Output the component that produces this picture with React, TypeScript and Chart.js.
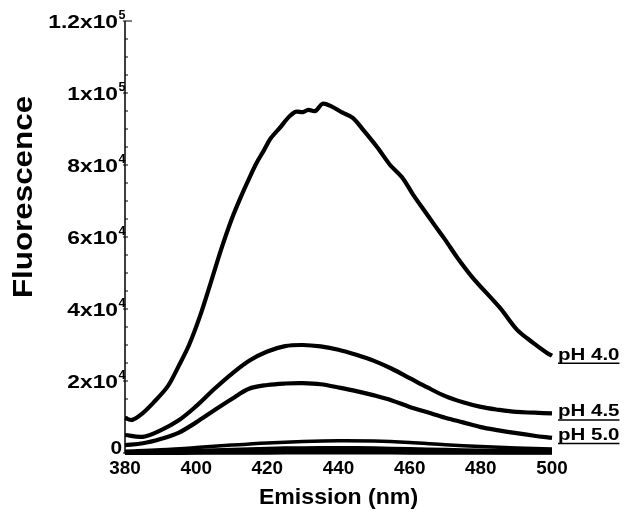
import { useEffect, useRef } from "react";
import { Chart, registerables } from "chart.js";

Chart.register(...registerables);

// ---- data ----
const ph40Wavelengths = [380, 382, 385, 388, 392, 395, 398, 401, 404, 407, 410, 412.5, 415, 417, 419, 421, 423.5, 426, 428, 430, 431.5, 433.5, 435.5, 438, 441, 444, 447, 451, 454.5, 458, 461, 464, 467, 470, 473.3, 477.8, 485.4, 490.2, 494.7, 498.6, 500];
const ph40Values = [9700, 9200, 11100, 14000, 18500, 24000, 30000, 37800, 47000, 56500, 65000, 71000, 76500, 80600, 84000, 87500, 90300, 93300, 94800, 94700, 95300, 95000, 97000, 96300, 94600, 93100, 89700, 84800, 80000, 76400, 71700, 67500, 63300, 59200, 54400, 48600, 40300, 34200, 30600, 27800, 27000];

const gridWavelengths = [380, 385, 390, 395, 400, 405, 410, 415, 420, 425, 430, 435, 440, 445, 450, 455, 460, 465, 470, 475, 480, 485, 490, 495, 500];
const ph45Values = [5000, 4500, 6300, 9000, 13000, 17700, 22000, 25700, 28200, 29700, 30000, 29600, 28700, 27300, 25600, 23400, 20800, 18200, 15800, 14100, 12800, 12000, 11400, 11200, 11000];
const ph50Values = [2200, 2700, 3900, 5600, 8500, 11800, 15000, 17900, 18900, 19300, 19400, 19100, 18200, 17200, 16000, 14600, 12800, 11300, 9800, 8500, 7200, 6300, 5500, 4800, 4200];

const lowWavelengths = [380, 390, 400, 410, 420, 430, 440, 450, 460, 470, 480, 490, 500];
const ph55Values = [500, 900, 1500, 2200, 2800, 3200, 3400, 3300, 2900, 2300, 1800, 1400, 1100];
const ph60Values = [100, 300, 600, 900, 1200, 1350, 1400, 1300, 1100, 900, 700, 550, 500];
const ph65Values = [0, 100, 200, 300, 400, 450, 500, 480, 400, 330, 270, 220, 200];
const ph70Values = [0, 0, 50, 80, 100, 120, 130, 120, 100, 80, 60, 50, 40];

const xTickValues = [380, 400, 420, 440, 460, 480, 500];
const yTickValues = [0, 20000, 40000, 60000, 80000, 100000, 120000];
const yTickBases = ["0", "2x10", "4x10", "6x10", "8x10", "1x10", "1.2x10"];
const yTickExponents = ["", "4", "4", "4", "4", "5", "5"];
const yMinorStep = 5000;
const seriesLabels = ["pH 4.0", "pH 4.5", "pH 5.0"];
const xTitle = "Emission (nm)";
const yTitle = "Fluorescence";

const FONT = "'Liberation Sans', Arial, Helvetica, sans-serif";

function pts(xs: number[], ys: number[]) {
  return xs.map((x, i) => ({ x, y: ys[i] }));
}

function drawText(
  ctx: CanvasRenderingContext2D,
  text: string,
  x: number,
  y: number,
  size: number,
  sx: number,
  align: "left" | "right" | "center",
  baseline: CanvasTextBaseline
) {
  ctx.save();
  ctx.font = `bold ${size}px ${FONT}`;
  ctx.textBaseline = baseline;
  ctx.textAlign = "left";
  const w = ctx.measureText(text).width * sx;
  let left = x;
  if (align === "right") left = x - w;
  if (align === "center") left = x - w / 2;
  ctx.translate(left, y);
  ctx.scale(sx, 1);
  ctx.fillText(text, 0, 0);
  ctx.restore();
  return { left, width: w };
}

const decorPlugin = {
  id: "decor",
  afterDraw(chart: any) {
    const ctx: CanvasRenderingContext2D = chart.ctx;
    const xs = chart.scales.x;
    const ys = chart.scales.y;
    const x0 = xs.getPixelForValue(380);
    const x1 = xs.getPixelForValue(500);
    const y0 = ys.getPixelForValue(0);
    const yTop = ys.getPixelForValue(120000);
    ctx.save();
    ctx.fillStyle = "#000";
    ctx.strokeStyle = "#000";
    ctx.lineWidth = 1.5;
    // axes
    ctx.beginPath();
    ctx.moveTo(x0, yTop);
    ctx.lineTo(x0, y0);
    ctx.lineTo(x1, y0);
    ctx.stroke();
    // y ticks
    ctx.lineWidth = 1;
    for (let v = 0; v <= 120000; v += yMinorStep) {
      const py = ys.getPixelForValue(v);
      ctx.beginPath();
      const isTop = v === 120000;
      ctx.moveTo(x0 - (v % 20000 === 0 ? 2 : 0), py);
      ctx.lineTo(x0 + (isTop ? 7 : 3), py);
      ctx.stroke();
    }
    // y tick labels
    yTickValues.forEach((v, i) => {
      const py = ys.getPixelForValue(v);
      const exp = yTickExponents[i];
      if (!exp) {
        drawText(ctx, yTickBases[i], x0 - 3, py - 4, 19, 1.1, "right", "middle");
      } else {
        const baseEnd = x0 - 7;
        drawText(ctx, yTickBases[i], baseEnd, py + 2, 19, 1.2, "right", "middle");
        drawText(ctx, exp, baseEnd + 0.5, py - 5, 12, 1.05, "left", "middle");
      }
    });
    // x tick labels
    xTickValues.forEach((v) => {
      const px = xs.getPixelForValue(v);
      drawText(ctx, String(v), px, y0 + 16, 18, 1.05, "center", "middle");
    });
    // axis titles
    drawText(ctx, xTitle, (x0 + x1) / 2, y0 + 45, 22, 1.05, "center", "middle");
    ctx.save();
    ctx.translate(24, 197);
    ctx.rotate(-Math.PI / 2);
    drawText(ctx, yTitle, 0, 0, 28, 1.12, "center", "middle");
    ctx.restore();
    // series labels
    const ends = [ph40Values[ph40Values.length - 1], ph45Values[ph45Values.length - 1], ph50Values[ph50Values.length - 1]];
    const offs = [4, 3, 2];
    seriesLabels.forEach((lab, i) => {
      const py = ys.getPixelForValue(ends[i]) + offs[i];
      const r = drawText(ctx, lab, x1 + 6, py, 16, 1.28, "left", "alphabetic");
      ctx.lineWidth = 1.5;
      ctx.beginPath();
      ctx.moveTo(r.left, py + 3.5);
      ctx.lineTo(r.left + r.width, py + 3.5);
      ctx.stroke();
    });
    ctx.restore();
  },
};

export default function App() {
  const ref = useRef<HTMLCanvasElement | null>(null);
  useEffect(() => {
    if (!ref.current) return;
    const line = (data: { x: number; y: number }[], w = 4, t = 0.35) => ({
      data,
      borderColor: "#000",
      backgroundColor: "#000",
      borderWidth: w,
      pointRadius: 0,
      tension: t,
      fill: false,
      clip: 6,
    });
    const chart = new Chart(ref.current, {
      type: "line",
      data: {
        datasets: [
          line(pts(ph40Wavelengths, ph40Values), 4.2, 0.3),
          line(pts(gridWavelengths, ph45Values), 4.2),
          line(pts(gridWavelengths, ph50Values), 4.2),
          line(pts(lowWavelengths, ph55Values), 3.5),
          line(pts(lowWavelengths, ph60Values), 4),
          line(pts(lowWavelengths, ph65Values), 4),
          line(pts(lowWavelengths, ph70Values), 4),
        ] as any,
      },
      options: {
        animation: false,
        responsive: false,
        devicePixelRatio: 1,
        layout: { padding: { left: 125, right: 76, top: 21, bottom: 59 } },
        plugins: { legend: { display: false }, tooltip: { enabled: false } },
        scales: {
          x: { type: "linear", min: 380, max: 500, display: false },
          y: { type: "linear", min: 0, max: 120000, display: false },
        },
      },
      plugins: [decorPlugin],
    });
    return () => chart.destroy();
  }, []);
  return (
    <div style={{ position: "fixed", left: 0, top: 0, width: 628, height: 512, background: "#fff" }}>
      <canvas ref={ref} width={628} height={512} style={{ display: "block" }} />
    </div>
  );
}
